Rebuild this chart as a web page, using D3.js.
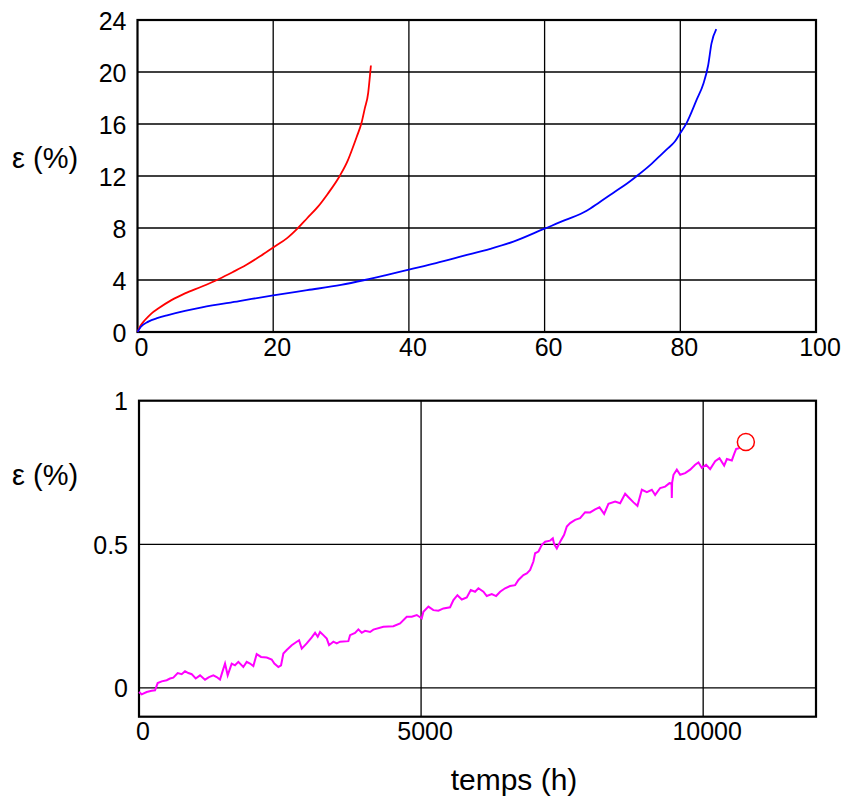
<!DOCTYPE html>
<html>
<head>
<meta charset="utf-8">
<script src="https://cdn.jsdelivr.net/npm/d3@7"></script>
<style>
  html, body { margin: 0; padding: 0; background: #fff; }
  svg { display: block; }
  text { font-family: "Liberation Sans", Arial, Helvetica, sans-serif; fill: #000; }
</style>
</head>
<body>
<svg id="chart" width="842" height="798"></svg>
<script>
// ---------- Data ----------
// Top chart: time (h) vs strain (%)
const topXTicks = [0, 20, 40, 60, 80, 100];
const topYTicks = [0, 4, 8, 12, 16, 20, 24];

const redX = [0, 0.4, 1.1, 2, 3.1, 5, 7, 9.5, 12, 14, 16, 18, 20, 22, 23.6, 25, 26.6, 28, 29.8, 31, 31.6, 32.3, 33, 33.5, 34, 34.2, 34.4];
const redY = [0, 0.45, 0.92, 1.4, 1.82, 2.45, 2.97, 3.5, 4.08, 4.6, 5.15, 5.8, 6.5, 7.2, 7.97, 8.75, 9.64, 10.6, 12.0, 13.2, 14.0, 15.0, 16.05, 17.2, 18.4, 19.4, 20.5];

const blueX = [0, 0.5, 1.6, 3, 4.5, 7, 9.5, 15, 20, 25, 30, 33.5, 36.5, 40, 44, 48, 52, 55.4, 60, 63, 66.2, 68, 70.1, 72.1, 73.6, 75.8, 77, 78, 79.2, 80, 80.9, 82.4, 83.4, 84.1, 84.6, 85.3];
const blueY = [0, 0.4, 0.8, 1.08, 1.3, 1.62, 1.9, 2.38, 2.82, 3.22, 3.62, 4.0, 4.36, 4.8, 5.3, 5.85, 6.4, 6.95, 7.95, 8.6, 9.33, 9.95, 10.7, 11.4, 12.0, 12.95, 13.55, 14.05, 14.65, 15.3, 16.05, 17.85, 19.1, 20.5, 22.2, 23.3];

// Bottom chart: time (h) vs strain (%)
const botXTicks = [0, 5000, 10000];
const botYTicks = [0, 0.5, 1];
const botYTickLabels = ["0", "0.5", "1"];

const magT = [0, 47, 136, 225, 284, 331, 402, 491, 550, 608, 686, 757, 816, 875, 934, 1005, 1082, 1170, 1241, 1318, 1377, 1436, 1478, 1525, 1572, 1643, 1702, 1761, 1849, 1909, 1968, 2027, 2086, 2163, 2264, 2352, 2399, 2470, 2518, 2559, 2618, 2707, 2796, 2837, 2885, 2973, 3062, 3121, 3168, 3209, 3268, 3328, 3369, 3445, 3505, 3564, 3711, 3741, 3830, 3888, 3948, 4007, 4096, 4154, 4332, 4509, 4628, 4746, 4835, 4924, 5012, 5041, 5130, 5218, 5307, 5396, 5514, 5573, 5644, 5722, 5810, 5881, 5957, 6016, 6105, 6164, 6253, 6330, 6401, 6489, 6578, 6667, 6726, 6814, 6874, 6933, 6991, 7021, 7080, 7140, 7199, 7287, 7335, 7358, 7406, 7465, 7535, 7583, 7642, 7730, 7819, 7908, 7996, 8085, 8162, 8245, 8321, 8440, 8528, 8617, 8676, 8765, 8835, 8913, 9002, 9090, 9149, 9238, 9326, 9403, 9440, 9444, 9450, 9474, 9533, 9592, 9681, 9770, 9858, 9917, 9976, 10053, 10124, 10213, 10289, 10372, 10420, 10508, 10550, 10585, 10644];
const magE = [-0.014, -0.022, -0.014, -0.010, -0.008, 0.017, 0.023, 0.027, 0.033, 0.036, 0.052, 0.048, 0.058, 0.052, 0.048, 0.033, 0.044, 0.029, 0.038, 0.044, 0.038, 0.029, 0.056, 0.085, 0.044, 0.085, 0.079, 0.091, 0.073, 0.091, 0.085, 0.076, 0.118, 0.108, 0.106, 0.099, 0.085, 0.073, 0.079, 0.120, 0.132, 0.149, 0.161, 0.166, 0.137, 0.155, 0.176, 0.192, 0.178, 0.195, 0.184, 0.172, 0.149, 0.161, 0.155, 0.161, 0.163, 0.184, 0.192, 0.204, 0.192, 0.199, 0.195, 0.203, 0.213, 0.215, 0.225, 0.248, 0.248, 0.254, 0.242, 0.265, 0.283, 0.271, 0.269, 0.277, 0.281, 0.306, 0.323, 0.308, 0.315, 0.341, 0.335, 0.347, 0.335, 0.320, 0.327, 0.320, 0.335, 0.347, 0.355, 0.358, 0.376, 0.393, 0.399, 0.411, 0.440, 0.469, 0.475, 0.498, 0.509, 0.513, 0.521, 0.501, 0.486, 0.509, 0.533, 0.562, 0.574, 0.585, 0.591, 0.612, 0.611, 0.622, 0.629, 0.606, 0.641, 0.649, 0.643, 0.676, 0.664, 0.646, 0.634, 0.690, 0.682, 0.690, 0.672, 0.696, 0.701, 0.713, 0.712, 0.661, 0.715, 0.742, 0.760, 0.742, 0.748, 0.760, 0.777, 0.785, 0.766, 0.777, 0.762, 0.789, 0.800, 0.774, 0.797, 0.792, 0.815, 0.832, 0.835];

const markerT = [10757];
const markerE = [0.856];

const yLabel = "ε (%)";
const xLabel = "temps (h)";

// ---------- Drawing ----------
const svg = d3.select("#chart");
const tickFont = 25;

function drawPanel(cfg) {
  const x = d3.scaleLinear().domain(cfg.xDomain).range([cfg.left, cfg.right]);
  const y = d3.scaleLinear().domain(cfg.yDomain).range([cfg.bottom, cfg.top]);
  const g = svg.append("g");

  // grid
  g.append("g").selectAll("line").data(cfg.xTicks.filter(v => v > cfg.xDomain[0] && v < cfg.xDomain[1]))
    .join("line")
    .attr("x1", d => x(d)).attr("x2", d => x(d))
    .attr("y1", cfg.top).attr("y2", cfg.bottom)
    .attr("stroke", "#000").attr("stroke-width", 1.3);
  g.append("g").selectAll("line").data(cfg.yTicks.filter(v => v > cfg.yDomain[0] && v < cfg.yDomain[1]))
    .join("line")
    .attr("y1", d => y(d)).attr("y2", d => y(d))
    .attr("x1", cfg.left).attr("x2", cfg.right)
    .attr("stroke", "#000").attr("stroke-width", 1.3);

  // x axis labels
  const xAxis = d3.axisBottom(x).tickValues(cfg.xTicks).tickSize(0).tickPadding(6)
    .tickFormat(cfg.xFormat || (d => String(d)));
  const xa = g.append("g").attr("transform", `translate(3.5,${cfg.bottom})`).call(xAxis);
  xa.select(".domain").remove();
  xa.selectAll("text").attr("font-size", tickFont).attr("font-family", "Liberation Sans, Arial, sans-serif").attr("fill", "#000");

  // y axis labels
  const yAxis = d3.axisLeft(y).tickValues(cfg.yTicks).tickSize(0).tickPadding(11)
    .tickFormat(cfg.yFormat || (d => String(d)));
  const ya = g.append("g").attr("transform", `translate(${cfg.left},1)`).call(yAxis);
  ya.select(".domain").remove();
  ya.selectAll("text").attr("font-size", tickFont).attr("font-family", "Liberation Sans, Arial, sans-serif").attr("fill", "#000");

  // frame
  g.append("rect")
    .attr("x", cfg.left).attr("y", cfg.top)
    .attr("width", cfg.right - cfg.left).attr("height", cfg.bottom - cfg.top)
    .attr("fill", "none").attr("stroke", "#000").attr("stroke-width", 2.2);

  // y label
  g.append("text").attr("x", 12).attr("y", cfg.yLabelY)
    .attr("font-size", 29).text(yLabel);

  return { x, y, g };
}

// Top panel
const topP = drawPanel({
  left: 137.5, right: 816, top: 20, bottom: 332,
  xDomain: [0, 100], yDomain: [0, 24],
  xTicks: topXTicks, yTicks: topYTicks,
  yLabelY: 168
});

const lineTop = d3.line().x(d => topP.x(d[0])).y(d => topP.y(d[1])).curve(d3.curveMonotoneX);
topP.g.append("path").datum(redX.map((v, i) => [v, redY[i]]))
  .attr("d", lineTop).attr("fill", "none").attr("stroke", "#ff0000").attr("stroke-width", 1.8);
topP.g.append("path").datum(blueX.map((v, i) => [v, blueY[i]]))
  .attr("d", lineTop).attr("fill", "none").attr("stroke", "#0000ff").attr("stroke-width", 1.8);

// Bottom panel
const botP = drawPanel({
  left: 139, right: 816, top: 400.7, bottom: 716.7,
  xDomain: [0, 12000], yDomain: [-0.1, 1],
  xTicks: botXTicks, yTicks: botYTicks,
  yFormat: (d, i) => botYTickLabels[i],
  yLabelY: 485
});

const lineBot = d3.line().x(d => botP.x(d[0])).y(d => botP.y(d[1]));
botP.g.append("path").datum(magT.map((v, i) => [v, magE[i]]))
  .attr("d", lineBot).attr("fill", "none").attr("stroke", "#ff00ff").attr("stroke-width", 2)
  .attr("stroke-linejoin", "miter");

botP.g.selectAll("circle.marker").data(markerT.map((v, i) => [v, markerE[i]]))
  .join("circle").attr("class", "marker")
  .attr("cx", d => botP.x(d[0])).attr("cy", d => botP.y(d[1])).attr("r", 8.5)
  .attr("fill", "none").attr("stroke", "#ff0000").attr("stroke-width", 1.5);

// x title
svg.append("text").attr("x", 514).attr("y", 790).attr("text-anchor", "middle")
  .attr("font-size", 30).text(xLabel);
</script>
</body>
</html>
